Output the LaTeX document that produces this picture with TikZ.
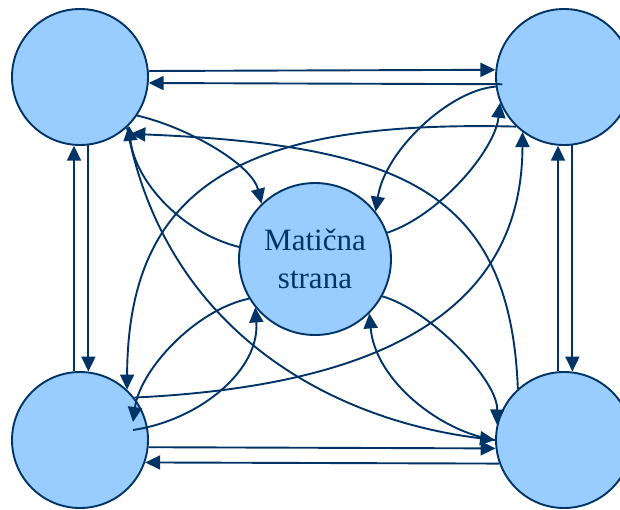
\documentclass[tikz,border=0pt]{standalone}
\usepackage{fontspec}
\setmainfont{Liberation Serif}
\usetikzlibrary{arrows.meta}
\definecolor{navy}{RGB}{0,51,102}
\definecolor{bubble}{RGB}{153,204,255}
\begin{document}
\begin{tikzpicture}[x=1pt,y=-1pt,
  site/.style={circle, draw=navy, fill=bubble, line width=1.9pt, inner sep=0pt, minimum size=136pt},
  hub/.style={site, minimum size=152pt, font=\fontsize{31}{38}\selectfont, text=navy, align=center},
  link/.style={draw=navy, line width=1.9pt, -{Triangle[length=15pt,width=14pt]}}]
\useasboundingbox (0,0) rectangle (620,509);

% the five pages
\node[site] (tl) at (80,77) {};
\node[site] (tr) at (564,77) {};
\node[site] (bl) at (80,440) {};
\node[site] (br) at (564,440) {};
\node[hub]  (mc) at (315,259) {Matična\\strana};

% straight pairs along the sides
\draw[link] (tl.5.9) -- (tr.174.1);
\draw[link] ([xshift=7pt]tr.-174.1) -- (tl.-5.9);
\draw[link] (bl.95.9) -- (tl.-95.9);
\draw[link] (tl.-83.2) -- (bl.83.2);
\draw[link] (br.95.9) -- (tr.-95.9);
\draw[link] (tr.-83.2) -- (br.83.2);
\draw[link] (bl.-6.76) -- (br.-173.24);
\draw[link] (br.-160.23) -- (bl.-19.77);

% corners to and from the centre
\draw[link] (tl.-34.6) .. controls (190,128) and (252,165) .. (mc.134.5);
\draw[link] (mc.171.8) .. controls (180,232) and (135,180) .. (tl.-45.6);
\draw[link] (tr.-172) .. controls (450,90) and (385,150) .. (mc.38.7);
\draw[link] (mc.20.6) .. controls (440,215) and (495,150) .. (tr.-158.7);
\draw[link] (mc.-149.7) .. controls (195,310) and (140,370) .. ([shift={(53,-18)}]bl.center);
\draw[link] ([shift={(53,-10)}]bl.center) .. controls (200,420) and (260,370) .. (mc.-141.1);
\draw[link] (mc.-29.6) .. controls (430,310) and (498,380) .. (br.167.7);
\draw[link] (br.180) .. controls (440,432) and (375,380) .. (mc.-45);

% diagonals
\draw[link] (tl.-47) .. controls (165,330) and (330,420) .. (br.180);
\draw[link] (br.132) .. controls (510,190) and (400,145) .. ([shift={(6,4)}]tl.-50);
\draw[link] (tr.-134.4) .. controls (250,120) and (128,180) .. (bl.47.8);
\draw[link] (bl.38.7) .. controls (400,385) and (522,300) .. (tr.-127.5);
\end{tikzpicture}
\end{document}
